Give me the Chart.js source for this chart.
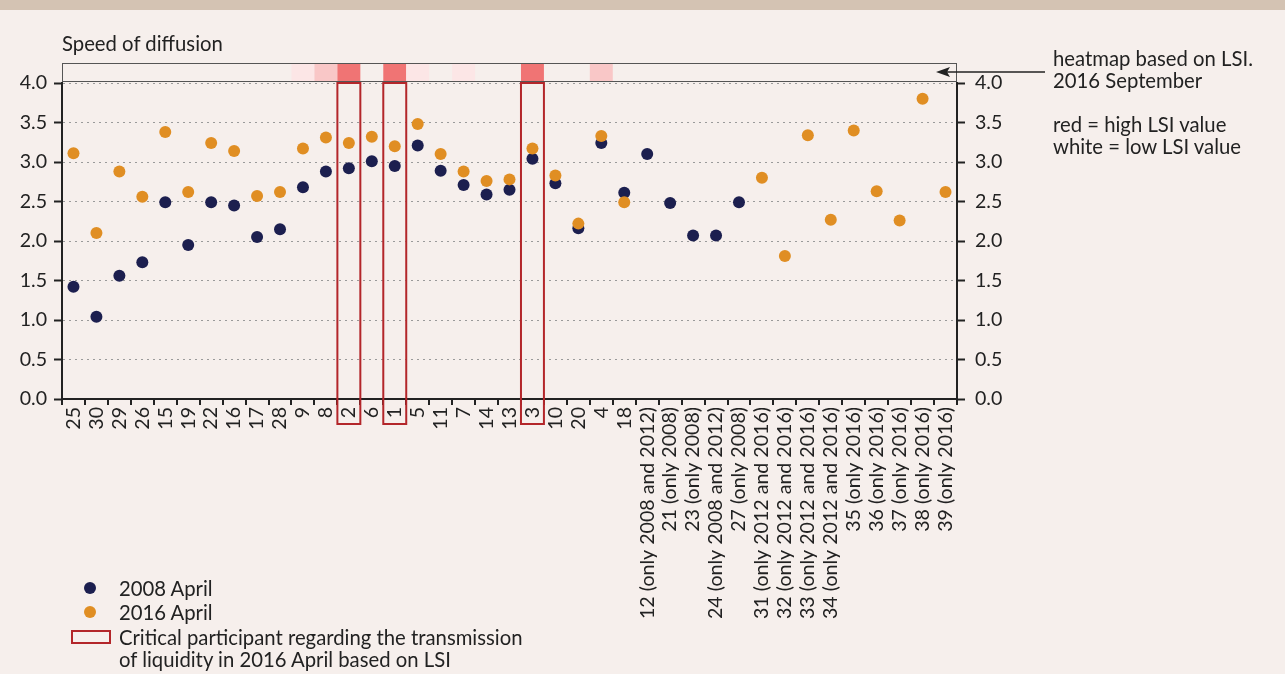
<!DOCTYPE html>
<html>
<head>
<meta charset="utf-8">
<script src="https://cdn.jsdelivr.net/npm/chart.js@4.4.1/dist/chart.umd.min.js"></script>
<style>
  body { margin: 0; background: #f6efec; font-family: Lato, sans-serif; color: #222; }
  #wrap { position: relative; width: 1285px; height: 674px; overflow: hidden; }
  .band { position: absolute; left: 0; top: 0; width: 1285px; height: 10px; background: #d4c3b3; }
  canvas { position: absolute; left: 0; top: 0; }
  .txt { position: absolute; font-size: 20.3px; line-height: 22px; white-space: nowrap; }
  .dot { position: absolute; width: 12px; height: 12px; border-radius: 50%; }
  .rect { position: absolute; width: 36px; height: 10px; border: 2px solid #b3262a; }
</style>
</head>
<body>
<div id="wrap">
  <div class="band"></div>
  <canvas id="chart" width="1285" height="674"></canvas>
  <div class="txt" style="left:62px; top:32px;">Speed of diffusion</div>
  <div class="txt" style="left:1053px; top:47px;">heatmap based on LSI.<br>2016 September</div>
  <div class="txt" style="left:1053px; top:113px;">red = high LSI value<br>white = low LSI value</div>

  <div class="dot" style="left:84px; top:582px; background:#1c1f4f;"></div>
  <div class="txt" style="left:119px; top:577px;">2008 April</div>
  <div class="dot" style="left:84px; top:606px; background:#e08e23;"></div>
  <div class="txt" style="left:119px; top:601px;">2016 April</div>
  <div class="rect" style="left:71px; top:630px;"></div>
  <div class="txt" style="left:119px; top:626px;">Critical participant regarding the transmission<br>of liquidity in 2016 April based on LSI</div>
</div>
<script>
const participants = ["25", "30", "29", "26", "15", "19", "22", "16", "17", "28", "9", "8", "2", "6", "1", "5", "11", "7", "14", "13", "3", "10", "20", "4", "18",
  "12 (only 2008 and 2012)", "21 (only 2008)", "23 (only 2008)", "24 (only 2008 and 2012)", "27 (only 2008)",
  "31 (only 2012 and 2016)", "32 (only 2012 and 2016)", "33 (only 2012 and 2016)", "34 (only 2012 and 2016)",
  "35 (only 2016)", "36 (only 2016)", "37 (only 2016)", "38 (only 2016)", "39 (only 2016)"];

const april2008 = [1.42, 1.04, 1.56, 1.73, 2.49, 1.95, 2.49, 2.45, 2.05, 2.15, 2.68, 2.88, 2.92, 3.01, 2.95, 3.21, 2.89, 2.71, 2.59, 2.65, 3.04, 2.73, 2.16, 3.24, 2.61,
  3.10, 2.48, 2.07, 2.07, 2.49,
  null, null, null, null, null, null, null, null, null];

const april2016 = [3.11, 2.10, 2.88, 2.56, 3.38, 2.62, 3.24, 3.14, 2.57, 2.62, 3.17, 3.31, 3.24, 3.32, 3.20, 3.48, 3.10, 2.88, 2.76, 2.78, 3.17, 2.83, 2.22, 3.33, 2.49,
  null, null, null, null, null,
  2.80, 1.81, 3.34, 2.27, 3.40, 2.63, 2.26, 3.80, 2.62];

// LSI heat, 2016 September (0 = white, 1 = red)
const lsiHeat = [0, 0, 0, 0, 0, 0, 0, 0, 0, 0, 0.18, 0.4, 1, 0, 1, 0.18, 0, 0.18, 0, 0, 1, 0, 0, 0.4, 0,
  0, 0, 0, 0, 0, 0, 0, 0, 0, 0, 0, 0, 0, 0];

const critical = ["2", "1", "3"];

const yTicks = [0, 0.5, 1, 1.5, 2, 2.5, 3, 3.5, 4];

const tickFont = { family: "Lato", size: 19.6 };

/* heat strip above the plot, red boxes round critical participants, arrow to note */
const extras = {
  id: "extras",
  afterDatasetsDraw(chart) {
    const { ctx, scales: { x, y } } = chart;
    const half = (x.getPixelForValue(1) - x.getPixelForValue(0)) / 2;
    const top = y.getPixelForValue(4);
    const stripTop = top - 20, stripBot = top - 2;
    ctx.save();
    lsiHeat.forEach((v, i) => {
      if (!v) return;
      const r = Math.round(255 - v * 15), g = Math.round(255 - v * 139);
      ctx.fillStyle = `rgb(${r},${g},${g})`;
      const cx = x.getPixelForValue(i);
      ctx.fillRect(cx - half, stripTop, half * 2, stripBot - stripTop);
    });
    ctx.strokeStyle = "#555";
    ctx.lineWidth = 1;
    ctx.strokeRect(chart.chartArea.left + 0.5, stripTop + 0.5, chart.chartArea.right - chart.chartArea.left - 1, stripBot - stripTop);

    ctx.strokeStyle = "#b3262a";
    ctx.lineWidth = 2;
    critical.forEach(lbl => {
      const i = participants.indexOf(lbl);
      const cx = x.getPixelForValue(i);
      ctx.strokeRect(cx - half, top, half * 2, 424 - top);
    });

    // arrow
    const ay = stripTop + 9;
    ctx.strokeStyle = "#222";
    ctx.fillStyle = "#222";
    ctx.lineWidth = 1.5;
    ctx.beginPath();
    ctx.moveTo(1045, ay);
    ctx.lineTo(944, ay);
    ctx.stroke();
    ctx.beginPath();
    ctx.moveTo(936, ay);
    ctx.lineTo(950, ay - 5);
    ctx.lineTo(947, ay);
    ctx.lineTo(950, ay + 5);
    ctx.closePath();
    ctx.fill();
    ctx.restore();
  }
};

new Chart(document.getElementById("chart"), {
  type: "line",
  data: {
    labels: participants,
    datasets: [
      {
        label: "2016 April",
        data: april2016,
        showLine: false,
        order: 0,
        pointRadius: 6,
        pointBorderWidth: 0,
        pointBackgroundColor: "#e08e23",
        pointBorderColor: "#e08e23"
      },
      {
        label: "2008 April",
        data: april2008,
        showLine: false,
        order: 1,
        pointRadius: 6,
        pointBorderWidth: 0,
        pointBackgroundColor: "#1c1f4f",
        pointBorderColor: "#1c1f4f"
      }
    ]
  },
  options: {
    responsive: false,
    animation: false,
    layout: { padding: { top: 83, right: 268, left: 0, bottom: 0 } },
    plugins: { legend: { display: false }, tooltip: { enabled: false } },
    scales: {
      x: {
        type: "category",
        offset: true,
        afterFit: s => { s.height = 275; },
        grid: { offset: true, drawOnChartArea: false, drawTicks: true, tickLength: 6, color: "#222", lineWidth: 2 },
        border: { color: "#222", width: 2 },
        ticks: { autoSkip: false, maxRotation: 90, minRotation: 90, padding: 2, color: "#222", font: tickFont }
      },
      y: {
        position: "left",
        min: 0,
        max: 4,
        afterFit: s => { s.width = 62; },
        afterBuildTicks: s => { s.ticks = yTicks.map(v => ({ value: v })); },
        grid: { color: "#9a9a9a", lineWidth: 1, tickColor: "#222", tickWidth: 2, tickLength: 8, tickBorderDash: [] },
        border: { color: "#222", width: 2, dash: [2, 4] },
        ticks: { padding: 7, color: "#222", font: tickFont, callback: v => v.toFixed(1) }
      },
      y2: {
        position: "right",
        min: 0,
        max: 4,
        afterFit: s => { s.width = 60; },
        afterBuildTicks: s => { s.ticks = yTicks.map(v => ({ value: v })); },
        grid: { drawOnChartArea: false, color: "#222", tickWidth: 2, tickLength: 8 },
        border: { color: "#222", width: 2 },
        ticks: { padding: 10, color: "#222", font: tickFont, callback: v => v.toFixed(1) }
      }
    }
  },
  plugins: [extras]
});
</script>
</body>
</html>
